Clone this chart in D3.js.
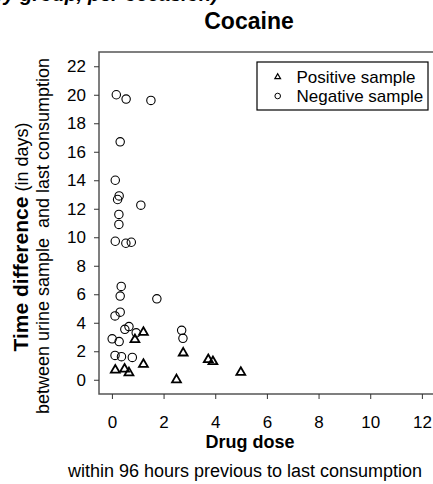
<!DOCTYPE html>
<html>
<head>
<meta charset="utf-8">
<script src="https://cdn.jsdelivr.net/npm/d3@7"></script>
<style>
  body { margin: 0; background: #fff; }
  svg { font-family: "Liberation Sans", Arial, sans-serif; display: block; }
</style>
</head>
<body>
<div id="chart"></div>
<script>
// values: drug dose (x) vs time difference in days (y)
const positiveDose = [1.22, 0.89, 2.76, 3.73, 3.91, 1.22, 0.13, 0.49, 0.66, 4.99, 2.50];
const positiveDays = [3.33, 2.82, 1.88, 1.41, 1.27, 1.08, 0.68, 0.75, 0.49, 0.52, 0.0];

const negativeDose = [0.17, 0.55, 1.51, 0.32, 0.13, 0.28, 0.22, 1.12, 0.27, 0.27,
  0.13, 0.54, 0.75, 0.36, 0.32, 1.74, 0.32, 0.12, 0.66, 0.50, 0.94, 2.70, 2.75,
  0.01, 0.28, 0.12, 0.37, 0.79];
const negativeDays = [20.0, 19.7, 19.6, 16.7, 14.0, 12.9, 12.65, 12.25, 11.6, 10.9,
  9.72, 9.58, 9.65, 6.55, 5.87, 5.68, 4.74, 4.48, 3.73, 3.54, 3.29, 3.47, 2.91,
  2.87, 2.68, 1.71, 1.62, 1.57];

const xTicks = [0, 2, 4, 6, 8, 10, 12];
const yTicks = [0, 2, 4, 6, 8, 10, 12, 14, 16, 18, 20, 22];
const legendLabels = ["Positive sample", "Negative sample"];

const width = 433, height = 484;

const svg = d3.select("#chart").append("svg")
  .attr("width", width)
  .attr("height", height);

const x = d3.scaleLinear().domain([-0.5, 12.5]).range([99, 434.8]);
const y = d3.scaleLinear().domain([-1, 23]).range([394, 52]);

// cut-off caption line at the very top (only its lower edge shows)
svg.append("text")
  .attr("x", 218).attr("y", 1)
  .attr("text-anchor", "end")
  .style("font-size", "20px")
  .style("font-style", "italic")
  .style("font-weight", "bold")
  .text("dy/ (by group, per occasion)");

svg.append("text")
  .attr("x", 249).attr("y", 29)
  .attr("text-anchor", "middle")
  .style("font-size", "23px")
  .style("font-weight", "bold")
  .text("Cocaine");

// frame (left, top, bottom)
svg.append("path")
  .attr("d", `M${x(12.5)},${y(23)}H${x(-0.5)}V${y(-1)}H${x(12.5)}`)
  .attr("fill", "none")
  .attr("stroke", "#555")
  .attr("stroke-width", 1.5);

const xAxis = svg.append("g")
  .attr("transform", `translate(0,${y(-1)})`)
  .call(d3.axisBottom(x).tickValues(xTicks).tickSize(5).tickPadding(17));
xAxis.select(".domain").remove();
xAxis.selectAll("line").attr("stroke", "#333");
xAxis.selectAll("text").style("font-size", "17px").attr("fill", "#000")
  .style("font-family", "Liberation Sans, Arial, sans-serif");

const yAxis = svg.append("g")
  .attr("transform", `translate(${x(-0.5)},0)`)
  .call(d3.axisLeft(y).tickValues(yTicks).tickSize(5).tickPadding(8));
yAxis.select(".domain").remove();
yAxis.selectAll("line").attr("stroke", "#333");
yAxis.selectAll("text").style("font-size", "17px").attr("fill", "#000")
  .style("font-family", "Liberation Sans, Arial, sans-serif");

// points
const negData = negativeDose.map((d, i) => ({ x: d, y: negativeDays[i] }));
const posData = positiveDose.map((d, i) => ({ x: d, y: positiveDays[i] }));

svg.append("g").selectAll("circle")
  .data(negData)
  .join("circle")
  .attr("cx", d => x(d.x))
  .attr("cy", d => y(d.y))
  .attr("r", 4.2)
  .attr("fill", "none")
  .attr("stroke", "#000")
  .attr("stroke-width", 1.1);

const tri = d3.symbol().type(d3.symbolTriangle).size(34);
svg.append("g").selectAll("path")
  .data(posData)
  .join("path")
  .attr("transform", d => `translate(${x(d.x)},${y(d.y)})`)
  .attr("d", tri)
  .attr("fill", "none")
  .attr("stroke", "#000")
  .attr("stroke-width", 1.8);

// legend
const legend = svg.append("g");
legend.append("rect")
  .attr("x", 257).attr("y", 62)
  .attr("width", 171).attr("height", 48)
  .attr("fill", "#fff")
  .attr("stroke", "#000")
  .attr("stroke-width", 1.2);
legend.append("path")
  .attr("transform", "translate(277.7,77)")
  .attr("d", d3.symbol().type(d3.symbolTriangle).size(14))
  .attr("fill", "none").attr("stroke", "#000").attr("stroke-width", 1.2);
legend.append("circle")
  .attr("cx", 277.7).attr("cy", 96)
  .attr("r", 2.8)
  .attr("fill", "none").attr("stroke", "#000").attr("stroke-width", 1);
legend.selectAll("text")
  .data(legendLabels)
  .join("text")
  .attr("x", 296.5)
  .attr("y", (d, i) => 82.5 + i * 19.5)
  .style("font-size", "17px")
  .text(d => d);

// y-axis title, two lines
const yTitle = svg.append("text")
  .attr("transform", "translate(28,237) rotate(-90)")
  .attr("text-anchor", "middle");
yTitle.append("tspan").style("font-weight", "bold").style("font-size", "21px").text("Time difference");
yTitle.append("tspan").style("font-size", "18px").text(" (in days)");

svg.append("text")
  .attr("transform", "translate(49,236) rotate(-90)")
  .attr("text-anchor", "middle")
  .style("font-size", "18px")
  .style("white-space", "pre")
  .text("between urine sample  and last consumption");

// x-axis title, two lines
svg.append("text")
  .attr("x", 250).attr("y", 448)
  .attr("text-anchor", "middle")
  .style("font-size", "18px")
  .style("font-weight", "bold")
  .text("Drug dose");

svg.append("text")
  .attr("x", 245).attr("y", 477)
  .attr("text-anchor", "middle")
  .style("font-size", "18px")
  .text("within 96 hours previous to last consumption");
</script>
</body>
</html>
